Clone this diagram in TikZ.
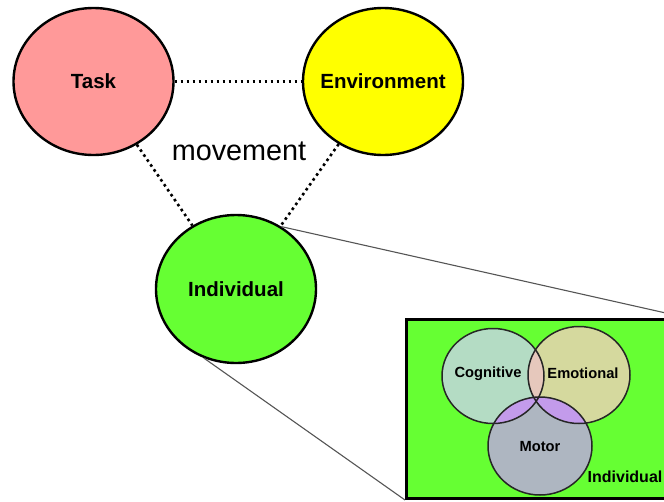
\documentclass[tikz,border=0pt]{standalone}
\usepackage{fontspec}
\setmainfont{Liberation Sans}
\usetikzlibrary{shapes.geometric}
\definecolor{taskc}{HTML}{FF9999}
\definecolor{envc}{HTML}{FFFF00}
\definecolor{indc}{HTML}{66FF33}
\definecolor{cogc}{HTML}{B4DCC4}
\definecolor{emoc}{HTML}{D5D99E}
\definecolor{motc}{HTML}{AEB6C1}
\definecolor{cec}{HTML}{E6C8BC}
\definecolor{purc}{HTML}{C39BEB}
\definecolor{linkc}{HTML}{555555}
\def\cogE{(493,376) ellipse [x radius=51pt, y radius=47.5pt]}
\def\emoE{(579,375) ellipse [x radius=51pt, y radius=48.5pt]}
\def\motE{(540,446) ellipse [x radius=52pt, y radius=49pt]}
\begin{document}
\begin{tikzpicture}[x=1pt,y=-1pt,
  bigtxt/.style={inner sep=0pt, font=\fontsize{20.5}{24}\selectfont\bfseries},
  bigc/.style={ellipse, draw=black, line width=2.4pt, inner sep=0pt,
    minimum width=160pt, minimum height=147pt,
    label={[bigtxt]center:#1}},
  dotlink/.style={line width=2.6pt, dash pattern=on 2.6pt off 3.4pt},
  zoomline/.style={draw=linkc, line width=1.1pt},
  vennc/.style={draw=black!85, line width=1.5pt},
  vlabel/.style={font=\fontsize{14.7}{17}\selectfont\bfseries, inner sep=0pt}]
\useasboundingbox (0,0) rectangle (664,501);
\clip (0,0) rectangle (664,501);

% main circles
\node[bigc=Task, fill=taskc] (task) at (93.5,81.5) {};
\node[bigc=Environment, fill=envc] (env) at (383,81.5) {};
\node[bigc=Individual, fill=indc, minimum height=148pt] (ind) at (236,289) {};

% dotted links
\draw[dotlink] (task) -- (env);
\draw[dotlink] (task) -- (ind);
\draw[dotlink] (env) -- (ind);

\node[font=\fontsize{28.8}{32}\selectfont, inner sep=0pt] (mov) at (239,151) {movement};

% inset box
\node[draw=black, line width=3pt, fill=indc, minimum width=280pt,
  minimum height=179pt, anchor=north west, inner sep=0pt] (box) at (405,318) {};

% zoom lines
\draw[zoomline] (ind.54) -- (box.north east);
\draw[zoomline] (ind.245) -- (box.south west);

% venn
\fill[cogc] \cogE;
\fill[emoc] \emoE;
\fill[motc] \motE;
\begin{scope}\clip \cogE; \fill[cec] \emoE; \end{scope}
\begin{scope}\clip \cogE; \fill[purc] \motE; \end{scope}
\begin{scope}\clip \emoE; \fill[purc] \motE; \end{scope}
\draw[vennc] \cogE;
\draw[vennc] \emoE;
\draw[vennc] \motE;

\node[vlabel] (cog) at (488,374) {Cognitive};
\node[vlabel] (emo) at (583,373) {Emotional};
\node[vlabel] (mot) at (540,447) {Motor};
\node[font=\fontsize{16}{19}\selectfont\bfseries, inner sep=0pt] (indlab) at (625,476.5) {Individual};
\end{tikzpicture}
\end{document}
